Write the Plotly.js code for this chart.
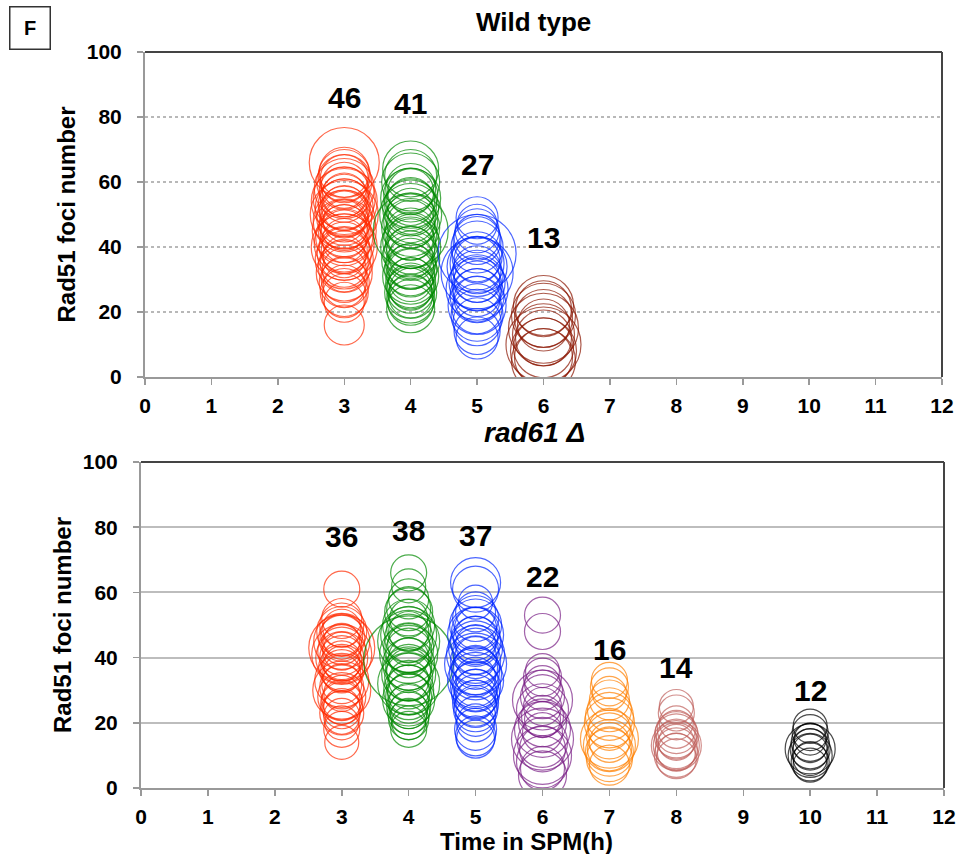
<!DOCTYPE html>
<html>
<head>
<meta charset="utf-8">
<script src="https://cdn.plot.ly/plotly-3.0.1.min.js"></script>
<style>html,body{margin:0;padding:0;background:#fff;}#chart{width:959px;height:854px;}</style>
</head>
<body>
<div id="chart"></div>
<script>
// ---------- DATA ----------
const xTicks = [0,1,2,3,4,5,6,7,8,9,10,11,12];
const yTicks = [0,20,40,60,80,100];

// Wild type
const wtTimes = [3,4,5,6];
const wtColors = ["#FF2A00","#008A00","#0026FF","#8B1500"];
const wtCounts = ["46","41","27","13"];
const wtCountY = [86,84,65.5,43];
const wt3h = [66,63,62,61,60,59,58,57,56,55,55,54,53,52,52,51,50,50,49,48,48,47,46,45,45,44,43,42,41,40,40,39,38,37,36,35,34,33,32,30,29,28,26,25,23,16];
const wt3hSize = [70,50,52,48,55,46,60,50,44,62,48,66,52,45,58,50,68,47,55,42,62,50,46,64,52,48,57,44,60,50,66,46,54,42,58,48,52,44,56,46,50,42,48,44,40,40];
const wt4h = [64,62,60,58,57,56,55,54,53,52,51,50,49,48,47,46,45,44,43,42,41,40,39,38,37,36,35,34,33,32,31,30,29,28,27,27,26,25,24,23,21];
const wt4hSize = [56,52,58,50,46,54,60,48,52,56,46,62,50,54,48,58,75,52,46,56,50,60,48,54,44,58,50,46,52,48,56,44,50,46,48,42,52,44,48,46,48];
const wt5h = [49,47,45,43,42,40,38,37,36,35,34,33,32,31,30,29,28,27,26,25,24,22,21,19,17,14,12];
const wt5hSize = [42,40,44,46,48,52,78,50,46,54,60,48,72,52,46,56,50,62,48,54,46,58,50,52,48,46,42];
const wt6h = [22,21,19,18,16,15,13,12,10,9,8,6,5];
const wt6hSize = [60,56,64,58,52,70,62,56,75,60,66,58,64];

// rad61 delta
const mutTimes = [3,4,5,6,7,8,10];
const mutColors = ["#FF2A00","#008A00","#0026FF","#7A1F86","#FF8000","#C0605C","#000000"];
const mutCounts = ["36","38","37","22","16","14","12"];
const mutCountY = [77,79,77.5,65,42.5,37,30];
const mut3h = [61,52,50,49,48,47,46,45,45,44,43,42,42,41,40,40,39,38,37,36,35,33,32,31,30,29,28,27,26,25,24,23,22,20,18,14];
const mut3hSize = [36,40,44,38,50,42,46,36,56,40,66,48,38,60,52,44,40,36,46,42,38,54,40,44,58,36,48,40,42,36,38,44,36,34,36,34];
const mut4h = [66,62,58,55,54,52,50,49,48,47,46,45,44,43,42,41,40,39,38,37,36,35,34,33,32,31,30,29,28,27,26,25,24,23,22,21,20,18];
const mut4hSize = [36,34,40,44,48,38,52,44,40,56,48,62,42,50,46,58,40,90,52,46,44,54,48,40,62,44,50,42,46,52,40,44,38,42,36,40,34,36];
const mut5h = [63,61,57,54,52,50,49,48,47,46,45,44,43,42,41,40,39,38,37,36,35,34,33,32,31,30,29,28,27,26,25,24,22,20,18,16,15];
const mut5hSize = [50,46,34,40,46,52,42,48,56,44,50,40,54,46,58,42,50,62,44,48,52,40,56,46,50,42,48,44,40,46,42,44,40,38,42,40,38];
const mut6h = [53,48,36,34,32,30,28,27,25,24,22,21,20,18,17,15,14,12,10,8,6,4];
const mut6hSize = [36,36,34,38,36,40,44,60,38,52,42,36,48,56,40,62,50,46,58,52,44,48];
const mut7h = [33,31,29,27,24,22,20,18,16,15,14,13,12,11,9,7];
const mut7hSize = [36,38,34,40,44,48,50,42,46,58,40,52,44,48,46,40];
const mut8h = [25,23,20,18,17,16,15,14,13,13,12,11,10,9];
const mut8hSize = [34,36,34,38,42,44,40,36,50,46,42,38,44,40];
const mut10h = [19,17,15,14,13,12,12,11,10,9,8,7];
const mut10hSize = [34,36,32,38,34,50,40,36,44,34,38,34];

// ---------- BUILD ----------
const wtY = [wt3h, wt4h, wt5h, wt6h];
const wtS = [wt3hSize, wt4hSize, wt5hSize, wt6hSize];
const mutY = [mut3h, mut4h, mut5h, mut6h, mut7h, mut8h, mut10h];
const mutS = [mut3hSize, mut4hSize, mut5hSize, mut6hSize, mut7hSize, mut8hSize, mut10hSize];

const traces = [];
function addGroup(t, ys, ss, color, xa, ya) {
  traces.push({
    type: 'scatter', mode: 'markers',
    x: ys.map(() => t), y: ys,
    xaxis: xa, yaxis: ya,
    marker: {size: ss, sizemode: 'diameter', color: 'rgba(0,0,0,0)',
             line: {color: color, width: 1.2}},
    hoverinfo: 'x+y', showlegend: false, cliponaxis: true
  });
}
wtTimes.forEach((t, i) => addGroup(t, wtY[i], wtS[i], wtColors[i], 'x', 'y'));
mutTimes.forEach((t, i) => addGroup(t, mutY[i], mutS[i], mutColors[i], 'x2', 'y2'));

const W = 959, H = 854;
const FAM = 'Liberation Sans, Arial, sans-serif';
const tickFont = {family: FAM, size: 21, color: '#000', weight: 'bold'};
const titleFont = {family: FAM, size: 24, color: '#000', weight: 'bold'};

function xAxis(domain, anchor) {
  return {
    domain: domain, anchor: anchor, range: [0, 12], tickvals: xTicks,
    ticks: 'outside', ticklen: 6, tickwidth: 1.5, tickcolor: '#999',
    showline: true, linecolor: '#999', linewidth: 2, showgrid: false, zeroline: false,
    tickfont: tickFont, ticklabelstandoff: 3, fixedrange: true
  };
}
function yAxis(domain, anchor, dotted) {
  return {
    domain: domain, anchor: anchor, range: [0, 100], tickvals: yTicks,
    ticks: 'outside', ticklen: 6, tickwidth: 1.5, tickcolor: '#999',
    showline: true, linecolor: '#999', linewidth: 2,
    showgrid: true, gridcolor: dotted ? '#b8b8b8' : '#bdbdbd', gridwidth: dotted ? 1.5 : 2,
    griddash: dotted ? 'dot' : 'solid', zeroline: false,
    tickfont: tickFont, ticklabelstandoff: 11,
    title: {text: 'Rad51 foci number', font: titleFont, standoff: 4}, fixedrange: true
  };
}

const cntFont = {family: FAM, size: 30, color: '#000', weight: 'bold'};
const annotations = [];
wtTimes.forEach((t, i) => annotations.push({x: t, y: wtCountY[i], xref: 'x', yref: 'y', text: wtCounts[i],
  showarrow: false, font: cntFont}));
mutTimes.forEach((t, i) => annotations.push({x: t, y: mutCountY[i], xref: 'x2', yref: 'y2', text: mutCounts[i],
  showarrow: false, font: cntFont}));
annotations.push({x: 533 / W, y: 1 - 22 / H, xref: 'paper', yref: 'paper', xanchor: 'center', yanchor: 'middle',
  text: 'Wild type', showarrow: false, font: {family: FAM, size: 26, color: '#000', weight: 'bold'}});
annotations.push({x: 534 / W, y: 1 - 432 / H, xref: 'paper', yref: 'paper', xanchor: 'center', yanchor: 'middle',
  text: '<i>rad61 Δ</i>', showarrow: false, font: {family: FAM, size: 28, color: '#000', weight: 'bold'}});
annotations.push({x: 526 / W, y: 1 - 841 / H, xref: 'paper', yref: 'paper', xanchor: 'center', yanchor: 'middle',
  text: 'Time in SPM(h)', showarrow: false, font: {family: FAM, size: 24, color: '#000', weight: 'bold'}});
annotations.push({x: 29.5 / W, y: 1 - 28.5 / H, xref: 'paper', yref: 'paper', xanchor: 'center', yanchor: 'middle',
  text: 'F', showarrow: false, width: 37, height: 39, bordercolor: '#333', borderwidth: 1.5, borderpad: 1,
  font: {family: FAM, size: 20, color: '#000', weight: 'bold'}});

function border(xr, yr) {
  return [
    {type: 'line', xref: xr + ' domain', yref: yr + ' domain', x0: 0, x1: 1, y0: 1, y1: 1, line: {color: '#444', width: 2}},
    {type: 'line', xref: xr + ' domain', yref: yr + ' domain', x0: 1, x1: 1, y0: 0, y1: 1, line: {color: '#444', width: 2}}
  ];
}

const layout = {
  width: W, height: H,
  margin: {l: 0, r: 0, t: 0, b: 0},
  paper_bgcolor: '#fff', plot_bgcolor: '#fff',
  showlegend: false,
  xaxis: xAxis([145 / W, 942 / W], 'y'),
  yaxis: yAxis([(H - 377) / H, (H - 52) / H], 'x', true),
  xaxis2: xAxis([141 / W, 944 / W], 'y2'),
  yaxis2: yAxis([(H - 788) / H, (H - 462) / H], 'x2', false),
  annotations: annotations,
  shapes: border('x', 'y').concat(border('x2', 'y2'))
};

Plotly.newPlot('chart', traces, layout, {displayModeBar: false, staticPlot: true});
</script>
</body>
</html>
